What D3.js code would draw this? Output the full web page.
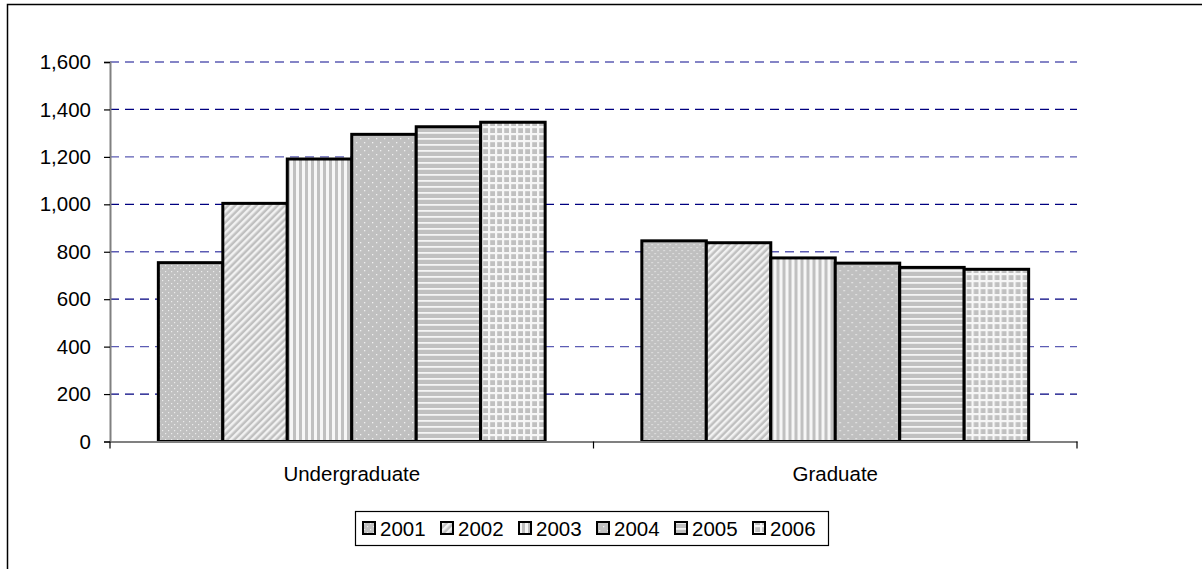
<!DOCTYPE html>
<html>
<head>
<meta charset="utf-8">
<script src="https://cdn.jsdelivr.net/npm/d3@7"></script>
<style>
  html, body { margin: 0; padding: 0; background: #fff; }
  svg { display: block; font-family: "Liberation Sans", Arial, sans-serif; }
</style>
</head>
<body>
<svg id="chart" width="1202" height="569"></svg>
<script>
const categories = ["Undergraduate", "Graduate"];
const years = ["2001", "2002", "2003", "2004", "2005", "2006"];
const values2001 = [754, 846];
const values2002 = [1004, 838];
const values2003 = [1191, 774];
const values2004 = [1295, 752];
const values2005 = [1327, 734];
const values2006 = [1346, 726];
const yTicks = [0, 200, 400, 600, 800, 1000, 1200, 1400, 1600];

const seriesValues = [values2001, values2002, values2003, values2004, values2005, values2006];

const svg = d3.select("#chart");
const W = 1202, H = 569;
const plot = { left: 110, right: 1077, top: 62, bottom: 441.5 };
const fontSize = 20.5;

// Patterns
const defs = svg.append("defs");
const GRAY = "#c0c0c0";
function pat(id, w, h, build, transform) {
  const p = defs.append("pattern").attr("id", id).attr("patternUnits", "userSpaceOnUse")
    .attr("width", w).attr("height", h);
  if (transform) p.attr("patternTransform", transform);
  p.append("rect").attr("width", w).attr("height", h).attr("fill", GRAY);
  build(p);
}
// 2001 dense dots
pat("p0", 6, 6, p => {
  p.append("rect").attr("x", 1).attr("y", 1).attr("width", 1.2).attr("height", 1.2).attr("fill", "#ececec");
  p.append("rect").attr("x", 4).attr("y", 4).attr("width", 1.2).attr("height", 1.2).attr("fill", "#ececec");
});
// 2002 diagonal stripes
pat("p1", 5, 5, p => {
  p.append("rect").attr("x", 0).attr("y", 0).attr("width", 2.5).attr("height", 5).attr("fill", "#f2f2f2");
}, "rotate(45)");
// 2003 vertical stripes
pat("p2", 6, 6, p => {
  p.append("rect").attr("x", 0).attr("y", 0).attr("width", 3).attr("height", 6).attr("fill", "#f6f6f6");
});
// 2004 sparse dots
pat("p3", 8, 8, p => {
  p.append("rect").attr("x", 2).attr("y", 2).attr("width", 1.3).attr("height", 1.3).attr("fill", "#f0f0f0");
  p.append("rect").attr("x", 6).attr("y", 6).attr("width", 1.3).attr("height", 1.3).attr("fill", "#f0f0f0");
});
// 2005 horizontal stripes
pat("p4", 6, 6, p => {
  p.append("rect").attr("x", 0).attr("y", 0).attr("width", 6).attr("height", 1.8).attr("fill", "#f4f4f4");
});
// 2006 grid
pat("p5", 7, 7, p => {
  p.append("rect").attr("x", 0).attr("y", 0).attr("width", 7).attr("height", 2.2).attr("fill", "#f6f6f6");
  p.append("rect").attr("x", 0).attr("y", 0).attr("width", 2.2).attr("height", 7).attr("fill", "#f6f6f6");
});
const fills = years.map((y, i) => `url(#p${i})`);

// Outer frame
svg.append("rect").attr("x", 7.5).attr("y", 4.5).attr("width", W + 20).attr("height", H + 20)
  .attr("fill", "none").attr("stroke", "#000").attr("stroke-width", 1.5);

// Scales
const x0 = d3.scaleBand().domain(categories).range([plot.left, plot.right]).paddingInner(0).paddingOuter(0);
const x1 = d3.scaleBand().domain(years).range([0, x0.bandwidth()]).paddingInner(0).paddingOuter(0.75);
const y = d3.scaleLinear().domain([0, 1600]).range([plot.bottom, plot.top]);

// Gridlines
svg.append("g").selectAll("line").data(yTicks.filter(d => d > 0)).join("line")
  .attr("x1", plot.left).attr("x2", plot.right)
  .attr("y1", d => y(d)).attr("y2", d => y(d))
  .attr("stroke", (d, i) => (i % 2 === 0) ? "#000080" : "#5c5cb4")
  .attr("stroke-width", 1.3)
  .attr("stroke-dasharray", "9,6");

// Bars
const groups = svg.append("g").selectAll("g").data(categories).join("g")
  .attr("transform", d => `translate(${x0(d)},0)`);
groups.selectAll("rect").data((c, ci) => years.map((yr, si) => ({ yr, si, v: seriesValues[si][ci] })))
  .join("rect")
  .attr("x", d => x1(d.yr))
  .attr("y", d => y(d.v))
  .attr("width", x1.bandwidth())
  .attr("height", d => y(0) - y(d.v))
  .attr("fill", d => fills[d.si])
  .attr("stroke", "#000")
  .attr("stroke-width", 3);

// Y axis
const yAxis = d3.axisLeft(y).tickValues(yTicks).tickSize(6).tickPadding(13)
  .tickFormat(d3.format(","));
const gy = svg.append("g").attr("transform", `translate(${plot.left},0)`).call(yAxis);
gy.select(".domain").attr("stroke", "#808080").attr("stroke-width", 2);
gy.selectAll(".tick line").attr("stroke", "#000").attr("stroke-width", 1.2);
gy.selectAll(".tick text").attr("font-size", fontSize).attr("fill", "#000")
  .attr("font-family", "Liberation Sans, Arial, sans-serif");

// X axis
const xAxis = d3.axisBottom(x0).tickSize(0).tickSizeOuter(0).tickPadding(25);
const gx = svg.append("g").attr("transform", `translate(0,${plot.bottom})`).call(xAxis);
gx.select(".domain").attr("stroke", "#808080").attr("stroke-width", 2);
gx.selectAll(".tick text").attr("font-size", fontSize).attr("fill", "#000")
  .attr("font-family", "Liberation Sans, Arial, sans-serif");
// category boundary ticks
const bounds = [plot.left].concat(categories.map(c => x0(c) + x0.bandwidth()));
svg.append("g").selectAll("line").data(bounds).join("line")
  .attr("x1", d => d).attr("x2", d => d)
  .attr("y1", plot.bottom).attr("y2", plot.bottom + 7)
  .attr("stroke", "#000").attr("stroke-width", 1.2);

// Legend
const legend = svg.append("g");
legend.append("rect").attr("x", 355.5).attr("y", 511.5).attr("width", 473).attr("height", 34)
  .attr("fill", "#fff").attr("stroke", "#000").attr("stroke-width", 1.2);
const item = legend.selectAll("g.item").data(years).join("g").attr("class", "item")
  .attr("transform", (d, i) => `translate(${363 + i * 78},0)`);
item.append("rect").attr("x", 0).attr("y", 522).attr("width", 12).attr("height", 12)
  .attr("fill", (d, i) => fills[i]).attr("stroke", "#000").attr("stroke-width", 2);
item.append("text").attr("x", 17).attr("y", 536).attr("font-size", fontSize).attr("fill", "#000")
  .text(d => d);
</script>
</body>
</html>
